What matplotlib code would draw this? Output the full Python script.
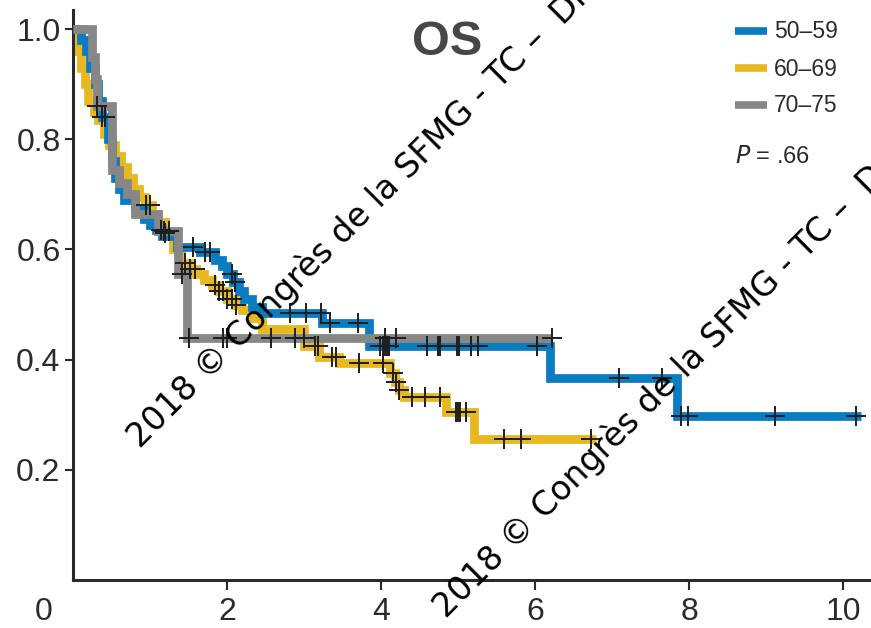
import numpy as np
import matplotlib
matplotlib.use("Agg")
import matplotlib.pyplot as plt
from matplotlib.lines import Line2D

# ---- Kaplan-Meier data: overall survival by age group (years) ----
groups = ["50–59", "60–69", "70–75"]

blue_t = [0.10, 0.17, 0.22, 0.28, 0.33, 0.38, 0.45, 0.50, 0.55, 0.60, 0.66, 0.80,
          0.92, 1.00, 1.08, 1.15, 1.35, 1.65, 1.85, 1.93, 2.00, 2.08, 2.15, 2.22,
          2.32, 2.45, 3.24, 3.84, 6.19, 7.84]
blue_s = [0.98, 0.96, 0.93, 0.90, 0.87, 0.84, 0.80, 0.76, 0.73, 0.71, 0.69, 0.675,
          0.655, 0.645, 0.635, 0.625, 0.605, 0.595, 0.58, 0.57, 0.555, 0.54, 0.525, 0.51,
          0.495, 0.484, 0.466, 0.424, 0.366, 0.297]
blue_end = 10.24
blue_cens = [0.38, 0.42, 1.14, 1.56, 1.72, 1.78, 2.07, 2.10, 2.82, 3.03, 3.22, 3.34,
             3.70, 3.99, 4.02, 4.05, 4.08, 4.11, 4.60, 4.74, 4.77, 4.99, 5.01, 5.17,
             5.26, 6.03, 7.09, 7.65, 7.89, 7.99, 9.12, 10.17]

yellow_t = [0.02, 0.05, 0.10, 0.15, 0.20, 0.27, 0.33, 0.40, 0.47, 0.55, 0.62, 0.70,
            0.78, 0.86, 0.94, 1.02, 1.10, 1.20, 1.30, 1.40, 1.50, 1.60, 1.70, 1.80,
            1.90, 2.00, 2.10, 2.20, 2.32, 2.45, 3.00, 3.20, 3.45, 4.12, 4.18, 4.24,
            4.30, 4.85, 5.21]
yellow_s = [0.985, 0.96, 0.93, 0.90, 0.87, 0.85, 0.835, 0.81, 0.79, 0.77, 0.75, 0.73,
            0.71, 0.695, 0.68, 0.665, 0.65, 0.63, 0.60, 0.575, 0.565, 0.555, 0.545, 0.535,
            0.525, 0.51, 0.50, 0.49, 0.475, 0.455, 0.425, 0.405, 0.393, 0.375, 0.36, 0.345,
            0.333, 0.305, 0.256]
yellow_end = 6.79
yellow_cens = [0.95, 1.00, 1.20, 1.45, 1.52, 1.58, 1.85, 1.90, 1.95, 2.00, 2.07, 2.12,
               3.14, 3.18, 3.37, 3.42, 3.72, 4.02, 4.15, 4.20, 4.24, 4.40, 4.57, 4.76,
               4.97, 5.00, 5.03, 5.11, 5.60, 5.82, 6.73]

gray_t = [0.25, 0.28, 0.31, 0.50, 0.60, 0.70, 0.80, 1.10, 1.37, 1.48]
gray_s = [0.95, 0.91, 0.86, 0.745, 0.72, 0.70, 0.665, 0.633, 0.555, 0.44]
gray_end = 6.22
gray_cens = [0.31, 1.18, 1.25, 1.42, 1.51, 1.95, 2.00, 2.57, 2.88, 3.00, 4.05, 4.20, 6.22]

p_value = ".66"
x_ticks = [2, 4, 6, 8, 10]
y_ticks = [0.2, 0.4, 0.6, 0.8, 1.0]

colors = ["#0a7cc2", "#e8b820", "#878787"]

W, H = 871, 628
fig = plt.figure(figsize=(W / 100, H / 100), dpi=100)
fig.patch.set_facecolor("white")

# axes box in pixel terms: left spine at x=73, bottom spine at y=580
ax = fig.add_axes([73 / W, (H - 580) / H, (W - 73) / W, (580 - 10) / H])
ax.set_xlim(0, (W - 73) / 77.0)
ax.set_ylim(0, 570 / 551.0)

def km_path(t, s, end):
    xs = np.concatenate([[0.0], t, [end]])
    ys = np.concatenate([[1.0], s, [s[-1]]])
    return xs, ys

def surv_at(t, s, x):
    t = np.asarray(t)
    s = np.asarray(s)
    idx = np.searchsorted(t, x, side="right") - 1
    return np.where(idx < 0, 1.0, s[np.clip(idx, 0, None)])

series = [
    (blue_t, blue_s, blue_end, blue_cens, colors[0], 3),
    (yellow_t, yellow_s, yellow_end, yellow_cens, colors[1], 2),
    (gray_t, gray_s, gray_end, gray_cens, colors[2], 4),
]

for t, s, end, cens, col, z in series:
    xs, ys = km_path(t, s, end)
    ax.step(xs, ys, where="post", color=col, lw=6.3, zorder=z,
            solid_joinstyle="miter", solid_capstyle="butt")

for t, s, end, cens, col, z in series:
    cy = surv_at(t, s, np.asarray(cens))
    ax.plot(cens, cy, ls="none", marker="+", ms=14, mew=1.4,
            color="#1e1e1e", zorder=6)

# axes styling
for side in ("top", "right"):
    ax.spines[side].set_visible(False)
for side in ("left", "bottom"):
    ax.spines[side].set_linewidth(2.2)
    ax.spines[side].set_color("#2a2a2a")

tick_font = dict(family=["Liberation Sans", "DejaVu Sans"], size=23)
label_color = "#2b2b2b"
ax.set_xticks(x_ticks)
ax.set_xticklabels([str(v) for v in x_ticks], color=label_color, **tick_font)
ax.set_yticks(y_ticks)
ax.set_yticklabels([f"{v:.1f}" for v in y_ticks], color=label_color, **tick_font)
ax.tick_params(axis="x", direction="out", length=7.5, width=1.5, color="#2a2a2a", pad=4.5)
ax.tick_params(axis="y", direction="out", length=6, width=1.5, color="#2a2a2a", pad=3)

# the origin label sits left of the corner
ax.annotate("0", xy=(0, 0), xycoords=ax.get_xaxis_transform(),
            xytext=(-21, -12), textcoords="offset points", ha="center", va="top",
            color=label_color, annotation_clip=False, **tick_font)

# title
fig.text(447 / W, 1 - 55 / H, "OS", ha="center", va="baseline", fontsize=35,
         fontweight="bold", color="#474747", family=["Liberation Sans", "DejaVu Sans"])

# legend
leg_y = [31, 68, 105]
for lab, col, yy in zip(groups, colors, leg_y):
    fig.add_artist(Line2D([735 / W, 767 / W], [1 - yy / H, 1 - yy / H],
                          transform=fig.transFigure, color=col, lw=5.5,
                          solid_capstyle="butt"))
    fig.text(774 / W, 1 - (yy + 7.5) / H, lab, ha="left", va="baseline", fontsize=16.5,
             color="#2b2b2b", family=["Liberation Sans", "DejaVu Sans"])
fig.text(735 / W, 1 - 163 / H, r"$\mathit{P}$ = " + p_value, ha="left", va="baseline",
         fontsize=17, color="#2b2b2b", family=["Liberation Sans", "DejaVu Sans"])

# copyright watermark, two diagonal copies
mark = "2018 © Congrès de la SFMG - TC –  Dr"
for px, py in [(140, 449), (446, 619)]:
    fig.text(px / W, 1 - py / H, mark, rotation=45, rotation_mode="anchor",
             ha="left", va="baseline", fontsize=24, color="black",
             family=["DejaVu Sans"], zorder=10)

fig.savefig("out.png", dpi=100)
